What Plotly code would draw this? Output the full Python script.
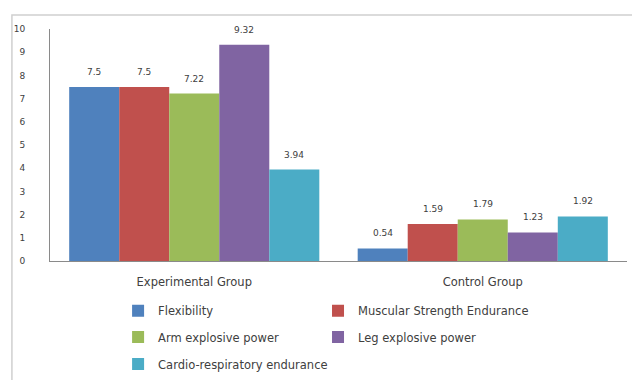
import plotly.graph_objects as go

categories = ["Experimental Group", "Control Group"]
series_names = ["Flexibility", "Muscular Strength Endurance", "Arm explosive power",
                "Leg explosive power", "Cardio-respiratory endurance"]
flexibility = [7.5, 0.54]
muscular = [7.5, 1.59]
arm_power = [7.22, 1.79]
leg_power = [9.32, 1.23]
cardio = [3.94, 1.92]
series_values = [flexibility, muscular, arm_power, leg_power, cardio]
colors = ["#4F81BD", "#C0504D", "#9BBB59", "#8064A2", "#4BACC6"]
y_ticks = list(range(0, 11))

# the page body adds an 8px margin, so the figure is 8px smaller each way
W, H = 632, 372
ML, MR, MT, MB = 42, 13, 21, 119
BARGAP = 0.133
plot_w = W - ML - MR
bar_w = plot_w / len(categories) * (1 - BARGAP) / len(series_names)

FONT = "DejaVu Sans"
TXT = "#404040"

# legend slots (paper coords): two columns, three rows
legend_x = [0.118, 0.4645, 0.118, 0.4645, 0.118]
legend_y = [-0.2142, -0.2142, -0.3276, -0.3276, -0.4440]
legend_ids = ["legend", "legend2", "legend3", "legend4", "legend5"]

fig = go.Figure()
annotations = []
n = len(series_names)
for i, (name, vals, col) in enumerate(zip(series_names, series_values, colors)):
    fig.add_trace(go.Bar(
        x=categories, y=vals, name=name, legend=legend_ids[i],
        marker=dict(color=col, line=dict(width=0)),
    ))
    for c, v in zip(categories, vals):
        annotations.append(dict(
            x=c, y=v, xref="x", yref="y", text=str(v), showarrow=False,
            xshift=(i - (n - 1) / 2) * bar_w, yshift=15, yanchor="middle",
            font=dict(size=9, color=TXT, family=FONT),
        ))

legend_layout = {}
for lid, lx, ly in zip(legend_ids, legend_x, legend_y):
    legend_layout[lid] = dict(
        orientation="v", x=lx, xanchor="left", y=ly, yanchor="middle",
        font=dict(size=11.5, color=TXT, family=FONT), itemwidth=30,
        bgcolor="rgba(0,0,0,0)",
    )

fig.update_layout(
    width=W, height=H,
    margin=dict(l=ML, r=MR, t=MT, b=MB, autoexpand=False),
    barmode="group", bargap=BARGAP, bargroupgap=0,
    plot_bgcolor="white", paper_bgcolor="white",
    font=dict(family=FONT, size=10, color=TXT),
    showlegend=True,
    xaxis=dict(showline=True, linecolor="#8a8a8a", linewidth=1, ticks="",
               tickfont=dict(size=11.5), ticklabelstandoff=10, showgrid=False),
    yaxis=dict(range=[0, 10], tickvals=y_ticks, showline=True, linecolor="#8a8a8a",
               linewidth=1, showgrid=False, zeroline=False, ticks="",
               ticklabelstandoff=22, tickfont=dict(size=9)),
    shapes=[dict(type="rect", xref="paper", yref="paper",
                 x0=-0.066, x1=1.2, y0=-1.0, y1=1.06,
                 line=dict(color="#d0d0d0", width=1.5), layer="below")],
    annotations=annotations,
    **legend_layout,
)

fig.write_html("out.html")
